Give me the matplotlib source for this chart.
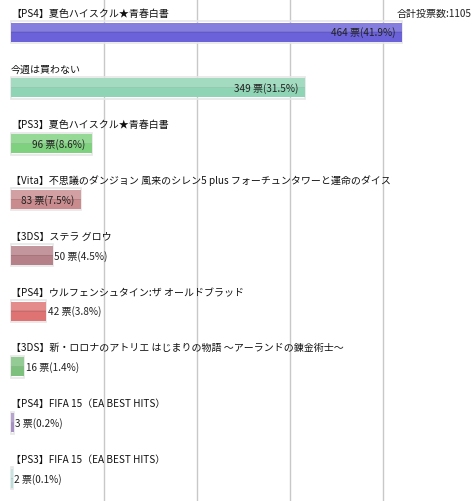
import matplotlib
matplotlib.use("Agg")
import matplotlib.pyplot as plt

plt.rcParams['font.family'] = ['Noto Sans CJK JP', 'DejaVu Sans']

# poll results (votes and the shown percentages)
titles = [
    "【PS4】夏色ハイスクル★青春白書",
    "今週は買わない",
    "【PS3】夏色ハイスクル★青春白書",
    "【Vita】不思議のダンジョン 風来のシレン5 plus フォーチュンタワーと運命のダイス",
    "【3DS】ステラ グロウ",
    "【PS4】ウルフェンシュタイン:ザ オールドブラッド",
    "【3DS】新・ロロナのアトリエ はじまりの物語 ～アーランドの錬金術士～",
    "【PS4】FIFA 15（EA BEST HITS）",
    "【PS3】FIFA 15（EA BEST HITS）",
]
votes = [464, 349, 96, 83, 50, 42, 16, 3, 2]
percents = [41.9, 31.5, 8.6, 7.5, 4.5, 3.8, 1.4, 0.2, 0.1]
total = 1105
colors = ["#6b62d9", "#8fd4b4", "#7fd07f", "#c98b8e", "#b58087",
          "#df7273", "#7dbf7d", "#a78fc4", "#b6dfda"]

W, H = 474, 502
fig = plt.figure(figsize=(W / 100, H / 100), dpi=100)
ax = fig.add_axes([0, 0, 1, 1])

px = 0.8416           # pixels per vote
x0 = 11               # left edge of bars in pixels
pitch = 55.8          # row pitch in pixels
y0 = 33               # centre of first bar in pixels
ax.set_xlim(-x0 / px, (W - x0) / px)
ax.set_ylim((H - y0) / pitch, -y0 / pitch)
ax.axis("off")

# grid every 10% of the total
for k in range(1, 5):
    ax.axvline(total * 0.1 * k, color="#c8c8c8", lw=1, zorder=0)

rows = list(range(len(votes)))
bh = 19 / pitch
ax.barh(rows, votes, height=bh + 3 / pitch, color="none",
        edgecolor="#e6e6e6", lw=1.2, zorder=1)
ax.barh(rows, votes, height=bh, color=colors, edgecolor="none", zorder=2)
# glossy top half and a darker middle line
ax.barh([r - bh / 4 for r in rows], votes, height=bh / 2, color="white",
        alpha=0.18, edgecolor="none", zorder=3)
ax.barh(rows, votes, height=1.2 / pitch, color="black", alpha=0.08,
        edgecolor="none", zorder=3)

for r, (t, v, p) in enumerate(zip(titles, votes, percents)):
    ax.annotate(t, (0, r), xytext=(0, 14), textcoords="offset points",
                ha="left", va="center", fontsize=7.2, color="#111111")
    lab = f"{v} 票({p}%)"
    if v * px > 60:
        ax.annotate(lab, (v, r), xytext=(-4.5, 0), textcoords="offset points",
                    ha="right", va="center", fontsize=7.2, color="#222222",
                    zorder=4)
    else:
        ax.annotate(lab, (v, r), xytext=(1, 0), textcoords="offset points",
                    ha="left", va="center", fontsize=7.2, color="#222222",
                    zorder=4)

ax.annotate(f"合計投票数:{total}", (1, 1), xycoords="axes fraction",
            xytext=(-1.5, -10.3), textcoords="offset points",
            ha="right", va="center", fontsize=7.2, color="#222222")

fig.savefig("out.png", dpi=100)
